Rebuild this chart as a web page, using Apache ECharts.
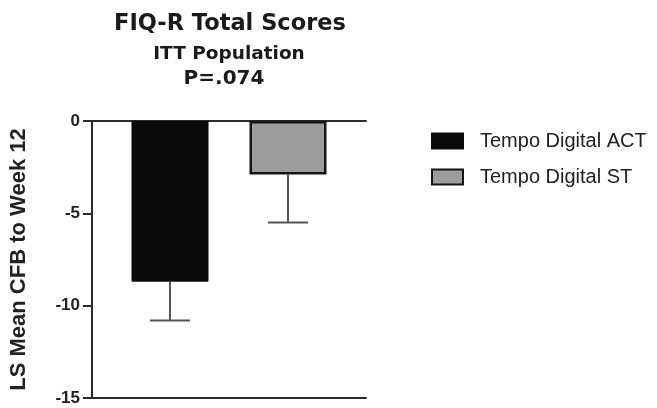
<!DOCTYPE html>
<html><head><meta charset="utf-8">
<script src="https://cdn.jsdelivr.net/npm/echarts@6/dist/echarts.min.js"></script>
<style>html,body{margin:0;padding:0;background:#fff}#c{width:657px;height:408px}</style>
</head><body><div id="c"></div>
<script>
// ---- data ----
const categories = ['ITT Population'];
const seriesNames = ['Tempo Digital ACT', 'Tempo Digital ST'];
const actMean = [-8.7];
const stMean = [-2.9];
const actLower = [-10.8];
const stLower = [-5.5];
const yMin = -15, yMax = 0, yStep = 5;
const titleLines = ['FIQ-R Total Scores', 'ITT Population', 'P=.074'];
const yName = 'LS Mean CFB to Week 12';

// ---- layout ----
const BAR_W = 77, GAP = 41;
const FONT = "'Liberation Sans', Arial, Helvetica, sans-serif";
const TFONT = "'DejaVu Sans', 'Liberation Sans', Arial, sans-serif";
const chart = echarts.init(document.getElementById('c'), null, {renderer: 'canvas'});

function errorSeries(means, lowers, sign) {
  return {
    type: 'custom', xAxisIndex: 0, yAxisIndex: 0, silent: true, z: 1,
    data: means.map((m, i) => [i, m, lowers[i]]),
    renderItem(params, api) {
      const c0 = api.coord([api.value(0), api.value(1)]);
      const c1 = api.coord([api.value(0), api.value(2)]);
      const x = c0[0] + sign * (BAR_W + GAP) / 2;
      return {type: 'group', children: [
        {type: 'line', shape: {x1: x, y1: c0[1], x2: x, y2: c1[1]}, style: {stroke: '#555', lineWidth: 2}},
        {type: 'line', shape: {x1: x - 20, y1: c1[1], x2: x + 20, y2: c1[1]}, style: {stroke: '#555', lineWidth: 2}}
      ]};
    }
  };
}

const axisLineStyle = {color: '#2a2a2a', width: 2};
chart.setOption({
  backgroundColor: '#ffffff',
  animation: false,
  grid: {left: 92, right: 291, top: 121, bottom: 10, containLabel: false},
  graphic: [
    {type: 'text', x: 230, y: 24, style: {text: titleLines[0], font: "bold 22.5px " + TFONT, fill: '#1a1a1a', align: 'center', verticalAlign: 'middle'}},
    {type: 'text', x: 229, y: 54, style: {text: titleLines[1], font: "bold 18.5px " + TFONT, fill: '#1a1a1a', align: 'center', verticalAlign: 'middle'}},
    {type: 'text', x: 224, y: 79, style: {text: titleLines[2], font: "bold 20px " + TFONT, fill: '#1a1a1a', align: 'center', verticalAlign: 'middle'}}
  ],
  legend: {
    orient: 'vertical', left: 431, top: 131, padding: 0,
    icon: 'rect',
    itemWidth: 31, itemHeight: 15, itemGap: 16,
    data: seriesNames,
    textStyle: {fontFamily: FONT, fontSize: 20, color: '#222', padding: [0, 0, 0, 12]}
  },
  xAxis: [
    {type: 'category', data: categories, position: 'bottom',
     axisLine: {onZero: false, lineStyle: axisLineStyle}, axisTick: {show: false}, axisLabel: {show: false}, splitLine: {show: false}},
    {type: 'category', data: categories, position: 'top',
     axisLine: {onZero: false, lineStyle: axisLineStyle}, axisTick: {show: false}, axisLabel: {show: false}, splitLine: {show: false}}
  ],
  yAxis: {
    type: 'value', min: yMin, max: yMax, interval: yStep,
    axisLine: {show: true, lineStyle: axisLineStyle},
    axisTick: {show: true, length: 9, lineStyle: axisLineStyle},
    axisLabel: {margin: 12, fontFamily: FONT, fontWeight: 'bold', fontSize: 17, color: '#222'},
    splitLine: {show: false},
    name: yName, nameLocation: 'middle', nameGap: 62, nameRotate: 90,
    nameTextStyle: {fontFamily: FONT, fontWeight: 'bold', fontSize: 22, color: '#222'}
  },
  series: [
    {name: seriesNames[0], type: 'bar', data: actMean, barWidth: BAR_W, barGap: (GAP / BAR_W * 100) + '%', z: 2,
     itemStyle: {color: '#0a0a0a', borderColor: '#0a0a0a', borderWidth: 1}},
    {name: seriesNames[1], type: 'bar', data: stMean, barWidth: BAR_W, z: 2,
     itemStyle: {color: '#9c9c9c', borderColor: '#151515', borderWidth: 2.5}},
    errorSeries(actMean, actLower, -1),
    errorSeries(stMean, stLower, 1)
  ]
});
</script></body></html>
